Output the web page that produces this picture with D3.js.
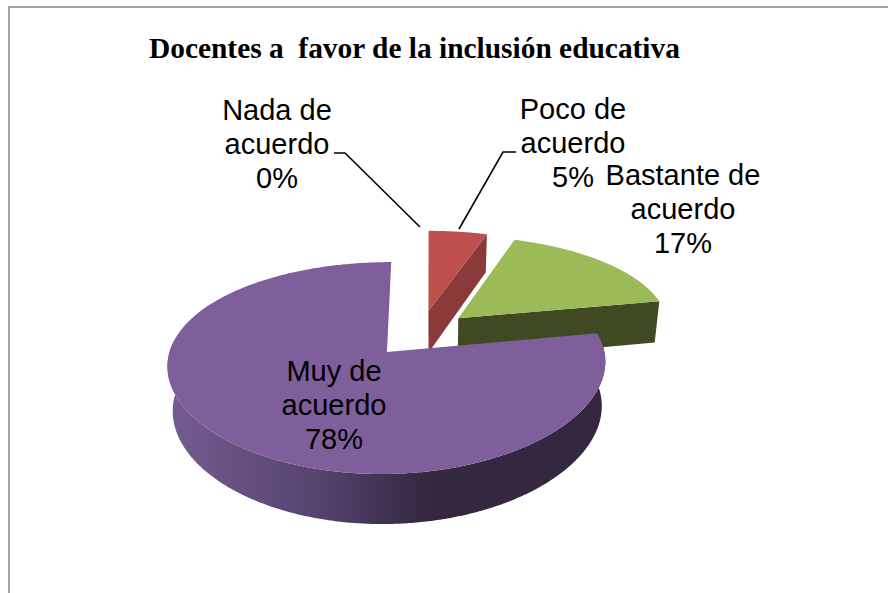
<!DOCTYPE html>
<html>
<head>
<meta charset="utf-8">
<script src="https://cdn.jsdelivr.net/npm/d3@7"></script>
<style>
html, body { margin: 0; padding: 0; background: #fff; }
svg { display: block; }
text { font-family: "Liberation Sans", Arial, sans-serif; fill: #000; }
</style>
</head>
<body>
<svg id="chart" width="888" height="593"></svg>
<script>
// Survey answers, in drawing order clockwise from twelve o'clock
const categories = ["Poco de acuerdo", "Bastante de acuerdo", "Muy de acuerdo", "Nada de acuerdo"];
const values = [5, 17, 78, 0];
const percentLabels = ["5%", "17%", "78%", "0%"];
const topColors = ["#be4f4d", "#9bbb59", "#7e5f9c", "#4bacc6"];
const cutColors = ["#8b3a39", "#404a22", "#33283f", "#2f6b7c"];
const title = "Docentes a  favor de la inclusión educativa";

// Every slice is pulled this far from the centre, as a fraction of the radius
const explode = 0.24;

// Tilted-disc projection: plane coordinates (u, v), v pointing to the viewer
const view = { x: 430, y: 333.4, ax: 213, ay: 98, k: -0.147, shift: -0.045, px: 0.75 };
const depth = { dy: 43, sx: 0.98, sy: 1.05 };

function project(u, v, lower) {
  const w = 1 + view.k * v;
  const sx = lower ? depth.sx : 1;
  const sy = lower ? depth.sy : 1;
  return [
    view.x + sx * view.ax * (u + view.shift) / Math.pow(w, view.px),
    view.y + (lower ? depth.dy : 0) + sy * view.ay * v / w
  ];
}

const svg = d3.select("#chart");
const line = d3.line();

const pie = d3.pie().sort(null).startAngle(0).endAngle(2 * Math.PI);
const slices = pie(values).map((d, i) => {
  const mid = (d.startAngle + d.endAngle) / 2;
  return { ...d, i, ou: explode * Math.sin(mid), ov: -explode * Math.cos(mid) };
});

const rimPoint = (s, a, lower) =>
  project(s.ou + Math.sin(a), s.ov - Math.cos(a), lower);
const apex = (s, lower) => project(s.ou, s.ov, lower);

function rimAngles(s) {
  const n = Math.max(2, Math.ceil((s.endAngle - s.startAngle) / 0.01));
  return d3.range(n + 1).map(j => s.startAngle + (s.endAngle - s.startAngle) * j / n);
}

// Shading of the curved wall of the large slice
const defs = svg.append("defs");
const wall = defs.append("linearGradient")
  .attr("id", "wallShade")
  .attr("gradientUnits", "userSpaceOnUse")
  .attr("x1", 171).attr("x2", 601).attr("y1", 0).attr("y2", 0);
[[0, "#745c91"], [0.12, "#6a5384"], [0.35, "#54426d"], [0.6, "#33283f"], [1, "#332840"]]
  .forEach(([o, c]) => wall.append("stop").attr("offset", o).attr("stop-color", c));

// Chart frame: only the top and left edges are visible
svg.append("path")
  .attr("d", line([[9, 593], [9, 7], [888, 7]]))
  .attr("fill", "none")
  .attr("stroke", "#a3a3a3")
  .attr("stroke-width", 2);

svg.append("text")
  .attr("x", 149).attr("y", 58)
  .attr("xml:space", "preserve")
  .style("white-space", "pre")
  .style("font-family", '"Liberation Serif", "Times New Roman", serif')
  .style("font-weight", "bold")
  .style("font-size", "29.4px")
  .text(title);

const pieGroup = svg.append("g");

function drawSlice(s) {
  const g = pieGroup.append("g");
  const angles = rimAngles(s);

  // Cut face along the closing edge, visible only when that edge faces the viewer
  const a1 = s.endAngle;
  if (a1 < Math.PI) {
    g.append("path")
      .attr("d", line([apex(s, false), rimPoint(s, a1, false), rimPoint(s, a1, true), apex(s, true)]) + "Z")
      .attr("fill", cutColors[s.i]);
  }

  // Curved outer wall, only where the rim faces the viewer
  const front = angles.filter(a => Math.cos(a) < 0.12);
  if (front.length > 1) {
    const upper = front.map(a => rimPoint(s, a, false));
    const lower = front.map(a => rimPoint(s, a, true)).reverse();
    g.append("path")
      .attr("d", line(upper.concat(lower)) + "Z")
      .attr("fill", "url(#wallShade)");
  }

  // Top face
  g.append("path")
    .attr("d", line([apex(s, false)].concat(angles.map(a => rimPoint(s, a, false)))) + "Z")
    .attr("fill", topColors[s.i]);
}

slices.filter(s => s.value > 0).forEach(drawSlice);

// Leader lines for the two labels set away from the pie
const leaders = [
  [[334, 153], [345, 153], [420, 227]],
  [[516, 152], [503, 152], [459, 229]]
];
svg.selectAll("path.leader").data(leaders).join("path")
  .attr("class", "leader")
  .attr("d", d => line(d))
  .attr("fill", "none")
  .attr("stroke", "#000")
  .attr("stroke-width", 1.6);

// Multi-line slice labels: category split over lines, then the percentage
const labelLines = [
  ["Poco de", "acuerdo", percentLabels[0]],
  ["Bastante de", "acuerdo", percentLabels[1]],
  ["Muy de", "acuerdo", percentLabels[2]],
  ["Nada de", "acuerdo", percentLabels[3]]
];
const labelAnchors = [[573, 119], [683, 185], [334, 381], [277, 120]];
const lineStep = 34;

labelLines.forEach((lines, i) => {
  svg.append("text")
    .attr("class", "label")
    .attr("aria-label", categories[i])
    .attr("text-anchor", "middle")
    .style("font-size", "29px")
    .selectAll("tspan").data(lines).join("tspan")
    .attr("x", labelAnchors[i][0])
    .attr("y", (d, j) => labelAnchors[i][1] + j * lineStep)
    .text(d => d);
});
</script>
</body>
</html>
